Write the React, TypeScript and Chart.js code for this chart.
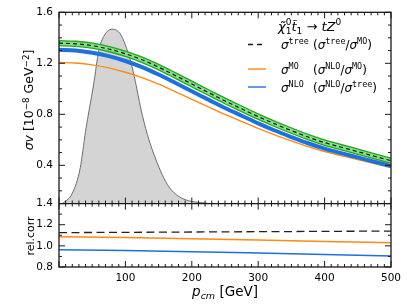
import { useEffect, useRef } from 'react';
import { Chart, registerables } from 'chart.js';

Chart.register(...registerables);

// ---- data ----
const P_CM = [0, 25, 50, 75, 100, 125, 150, 175, 200, 225, 250, 275, 300, 325, 350, 375, 400, 425, 450, 475, 500];
const SIGMA_TREE = [1.358, 1.353, 1.338, 1.312, 1.275, 1.228, 1.17, 1.105, 1.038, 0.971, 0.905, 0.843, 0.782, 0.725, 0.672, 0.622, 0.578, 0.542, 0.507, 0.471, 0.436];
const SIGMA_MO = [1.207, 1.202, 1.188, 1.164, 1.13, 1.088, 1.036, 0.978, 0.918, 0.858, 0.799, 0.744, 0.69, 0.639, 0.592, 0.547, 0.508, 0.476, 0.445, 0.413, 0.383];
const SIGMA_NLO = [1.306, 1.3, 1.283, 1.256, 1.218, 1.17, 1.112, 1.047, 0.981, 0.915, 0.849, 0.789, 0.729, 0.673, 0.622, 0.573, 0.531, 0.496, 0.462, 0.428, 0.395];

const DIST_X = [5, 7, 20, 32, 40, 52, 60, 70, 81, 92, 100, 108, 115, 123, 133, 143, 153, 163, 173, 185, 198, 213, 230, 260];
const DIST_Y = [0.1, 0.108, 0.18, 0.38, 0.667, 1.03, 1.3, 1.433, 1.467, 1.433, 1.343, 1.213, 1.057, 0.85, 0.643, 0.486, 0.355, 0.251, 0.186, 0.142, 0.119, 0.108, 0.1, 0.1];

const RATIO_X = [0, 100, 200, 300, 400, 500];
const RATIO_TREE_MO = [1.125, 1.128, 1.131, 1.134, 1.137, 1.14];
const RATIO_NLO_MO = [1.085, 1.078, 1.067, 1.055, 1.042, 1.03];
const RATIO_NLO_TREE = [0.962, 0.955, 0.945, 0.932, 0.918, 0.905];

const X_TICKS = [100, 200, 300, 400, 500];
const Y_TICKS_MAIN = [0.4, 0.8, 1.2, 1.6];
const Y_TICKS_RATIO = [0.8, 1.0, 1.2, 1.4];

const ORANGE = '#ff8a14';
const BLUE = '#1f6fde';
const GREEN_EDGE = '#22a622';
const GREEN_FILL = '#86e086';
const FONT = '"DejaVu Sans"';
const MONO = '"DejaVu Sans Mono"';

const pts = (xs: number[], ys: number[]) => xs.map((x, i) => ({ x, y: ys[i] }));

type Run = { t: string; f: string; dy?: number; adv?: boolean };

function runsWidth(ctx: CanvasRenderingContext2D, runs: Run[]) {
  let w = 0;
  for (const r of runs) {
    ctx.font = r.f;
    if (r.adv !== false) w += ctx.measureText(r.t).width;
  }
  return w;
}

function drawRuns(ctx: CanvasRenderingContext2D, runs: Run[], x: number, y: number) {
  let cx = x;
  for (const r of runs) {
    ctx.font = r.f;
    ctx.fillText(r.t, cx, y + (r.dy || 0));
    if (r.adv !== false) cx += ctx.measureText(r.t).width;
  }
  return cx;
}

const it = (s: number) => `italic ${s}px ${FONT}`;
const rm = (s: number) => `${s}px ${FONT}`;
const tt = (s: number) => `${s}px ${MONO}`;

const overlay = {
  id: 'overlay',
  afterDatasetsDraw(chart: any) {
    const ctx: CanvasRenderingContext2D = chart.ctx;
    const xs = chart.scales.x;
    const ym = chart.scales.ym;
    const yr = chart.scales.yr;
    const L = xs.left;
    const R = xs.right;
    const MAJ = 6;
    const MIN = 3;
    ctx.save();
    ctx.strokeStyle = '#1a1a1a';
    ctx.lineWidth = 1;
    ctx.beginPath();
    for (let i = 0; i <= 50; i++) {
      const px = xs.getPixelForValue(i * 10);
      const len = i % 10 === 0 ? MAJ : MIN;
      const edges: [number, number][] = [[ym.top, 1], [ym.bottom, -1], [yr.top, 1], [yr.bottom, -1]];
      for (const [e, d] of edges) {
        ctx.moveTo(px, e);
        ctx.lineTo(px, e + d * len);
      }
    }
    for (let i = 1; i <= 16; i++) {
      const py = ym.getPixelForValue(i / 10);
      const len = i % 4 === 0 ? MAJ : MIN;
      ctx.moveTo(L, py); ctx.lineTo(L + len, py);
      ctx.moveTo(R, py); ctx.lineTo(R - len, py);
    }
    for (let i = 8; i <= 14; i++) {
      const py = yr.getPixelForValue(i / 10);
      const len = i % 2 === 0 ? MAJ : MIN;
      ctx.moveTo(L, py); ctx.lineTo(L + len, py);
      ctx.moveTo(R, py); ctx.lineTo(R - len, py);
    }
    ctx.stroke();
    ctx.lineWidth = 1.3;
    ctx.strokeRect(L, ym.top, R - L, yr.bottom - ym.top);
    ctx.beginPath();
    ctx.moveTo(L, ym.bottom);
    ctx.lineTo(R, ym.bottom);
    ctx.stroke();
    ctx.restore();
  },
  afterDraw(chart: any) {
    const ctx: CanvasRenderingContext2D = chart.ctx;
    const xs = chart.scales.x;
    const L = xs.left;
    const R = xs.right;
    ctx.save();
    ctx.fillStyle = '#000';
    ctx.textBaseline = 'alphabetic';
    ctx.textAlign = 'left';

    // legend title
    const lt: Run[] = [
      { t: 'χ\u0303', f: it(13) },
      { t: '0', f: rm(9), dy: -6, adv: false },
      { t: '1', f: rm(9), dy: 3 },
      { t: 't\u0303', f: it(13) },
      { t: '1', f: rm(9), dy: 3 },
      { t: ' → ', f: rm(13) },
      { t: 'tZ', f: it(13) },
      { t: '0', f: rm(9), dy: -6 },
    ];
    drawRuns(ctx, lt, 278, 31);

    // legend entries
    const sig = (sup: string): Run[] => [
      { t: 'σ', f: it(12) },
      { t: sup, f: tt(8.4), dy: -5 },
    ];
    const entries: { y: number; color: string; dash: number[]; a: string; b: string; c: string }[] = [
      { y: 44.5, color: '#1a1a1a', dash: [5, 4], a: 'tree', b: 'tree', c: 'MO' },
      { y: 69, color: ORANGE, dash: [], a: 'MO', b: 'NLO', c: 'MO' },
      { y: 87, color: BLUE, dash: [], a: 'NLO', b: 'NLO', c: 'tree' },
    ];
    for (const e of entries) {
      ctx.beginPath();
      ctx.strokeStyle = e.color;
      ctx.lineWidth = 1.4;
      ctx.setLineDash(e.dash);
      ctx.moveTo(248, e.y);
      ctx.lineTo(266, e.y);
      ctx.stroke();
      ctx.setLineDash([]);
      ctx.fillStyle = '#000';
      drawRuns(ctx, sig(e.a), 281, e.y + 4.5);
      const par: Run[] = [
        { t: '(', f: rm(12) },
        ...sig(e.b),
        { t: '/', f: rm(12) },
        ...sig(e.c),
        { t: ')', f: rm(12) },
      ];
      drawRuns(ctx, par, 313, e.y + 4.5);
    }

    // x axis title
    const xt: Run[] = [
      { t: 'p', f: it(13.5) },
      { t: 'cm', f: it(9.5), dy: 3 },
      { t: ' [GeV]', f: rm(13.5) },
    ];
    drawRuns(ctx, xt, (L + R) / 2 - runsWidth(ctx, xt) / 2, 296);
    ctx.restore();
  },
};

const supStyle = { fontSize: '0.7em', verticalAlign: 'baseline', position: 'relative' as const, top: '-0.45em' };

export default function App() {
  const ref = useRef<HTMLCanvasElement | null>(null);
  useEffect(() => {
    if (!ref.current) return;
    const tickFont = { family: 'DejaVu Sans', size: 10.5 };
    const common = { pointRadius: 0, fill: false, cubicInterpolationMode: 'monotone' };
    const yTicks = { font: tickFont, color: '#000', padding: 6, autoSkip: false, callback: (v: any) => Number(v).toFixed(1) };
    const chart = new Chart(ref.current, {
      type: 'line',
      data: {
        datasets: [
          {
            label: 'dist', data: pts(DIST_X, DIST_Y), yAxisID: 'ym', order: 10,
            borderColor: '#6e6e6e', borderWidth: 1, backgroundColor: '#d4d4d4', fill: 'start',
            pointRadius: 0, cubicInterpolationMode: 'monotone',
          },
          { ...common, label: 'tree band edge', data: pts(P_CM, SIGMA_TREE), yAxisID: 'ym', order: 6, borderColor: GREEN_EDGE, borderWidth: 6.4 },
          { ...common, label: 'tree band', data: pts(P_CM, SIGMA_TREE), yAxisID: 'ym', order: 5, borderColor: GREEN_FILL, borderWidth: 3.8 },
          { ...common, label: 'tree', data: pts(P_CM, SIGMA_TREE), yAxisID: 'ym', order: 4, borderColor: '#111', borderWidth: 1.2, borderDash: [4, 3] },
          { ...common, label: 'MO', data: pts(P_CM, SIGMA_MO), yAxisID: 'ym', order: 3, borderColor: ORANGE, borderWidth: 1.4 },
          { ...common, label: 'NLO', data: pts(P_CM, SIGMA_NLO), yAxisID: 'ym', order: 2, borderColor: BLUE, borderWidth: 4 },
          { ...common, label: 'tree/MO', data: pts(RATIO_X, RATIO_TREE_MO), yAxisID: 'yr', order: 1, borderColor: '#222', borderWidth: 1.3, borderDash: [8, 4.5] },
          { ...common, label: 'NLO/MO', data: pts(RATIO_X, RATIO_NLO_MO), yAxisID: 'yr', order: 1, borderColor: ORANGE, borderWidth: 1.5 },
          { ...common, label: 'NLO/tree', data: pts(RATIO_X, RATIO_NLO_TREE), yAxisID: 'yr', order: 1, borderColor: BLUE, borderWidth: 1.5 },
        ],
      },
      options: {
        responsive: false,
        animation: false,
        devicePixelRatio: 1,
        layout: { padding: { top: 10, right: 16, left: 0, bottom: 0 } },
        plugins: { legend: { display: false }, tooltip: { enabled: false } },
        scales: {
          x: {
            type: 'linear', position: 'bottom', min: 0, max: 500,
            grid: { display: false, drawTicks: false }, border: { display: false },
            ticks: { font: tickFont, color: '#000', padding: 5, maxRotation: 0, autoSkip: false },
            afterBuildTicks: (s: any) => { s.ticks = X_TICKS.map((v) => ({ value: v })); },
            afterFit: (s: any) => { s.height = 39; },
          },
          yr: {
            type: 'linear', position: 'left', stack: 'panels', stackWeight: 64, min: 0.8, max: 1.4,
            grid: { display: false, drawTicks: false }, border: { display: false },
            ticks: yTicks,
            afterBuildTicks: (s: any) => { s.ticks = Y_TICKS_RATIO.map((v) => ({ value: v })); },
            afterFit: (s: any) => { s.width = 59; },
          },
          ym: {
            type: 'linear', position: 'left', stack: 'panels', stackWeight: 193, min: 0.1, max: 1.6,
            grid: { display: false, drawTicks: false }, border: { display: false },
            ticks: yTicks,
            afterBuildTicks: (s: any) => { s.ticks = Y_TICKS_MAIN.map((v) => ({ value: v })); },
            afterFit: (s: any) => { s.width = 59; },
          },
        },
      } as any,
      plugins: [overlay],
    });
    return () => chart.destroy();
  }, []);
  const titleBase = {
    position: 'absolute' as const,
    transform: 'translate(-50%, -50%) rotate(-90deg)',
    fontFamily: FONT,
    whiteSpace: 'nowrap' as const,
    lineHeight: 1,
    color: '#000',
  };
  return (
    <div style={{ position: 'absolute', left: 0, top: 0, width: 407, height: 306, background: '#fff', overflow: 'hidden' }}>
      <canvas
        ref={ref}
        width={407}
        height={306}
        style={{ position: 'absolute', left: 0, top: 0, display: 'block' }}
      />
      <div style={{ ...titleBase, left: 28.5, top: 100, fontSize: 12.5 }}>
        <i>σv</i> [10<span style={supStyle}>−8</span> GeV<span style={supStyle}>−2</span>]
      </div>
      <div style={{ ...titleBase, left: 30, top: 236, fontSize: 11 }}>rel.corr</div>
    </div>
  );
}
